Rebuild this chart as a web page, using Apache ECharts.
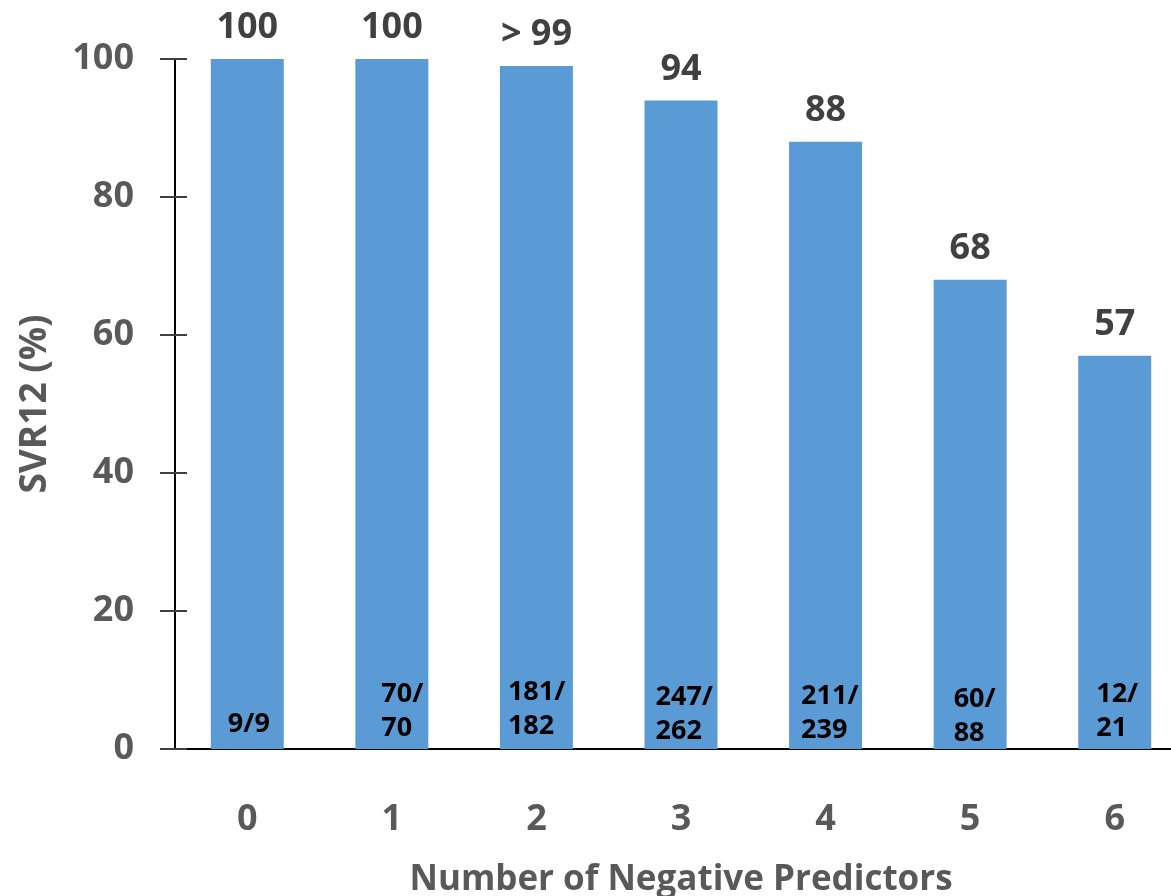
<!DOCTYPE html>
<html>
<head>
<meta charset="utf-8">
<script src="https://cdn.jsdelivr.net/npm/echarts@6/dist/echarts.min.js"></script>
<style>
  html, body { margin: 0; padding: 0; background: #ffffff; }
  #chart { width: 1171px; height: 896px; }
</style>
</head>
<body>
<div id="chart"></div>
<script>
  // data
  const categories = ['0', '1', '2', '3', '4', '5', '6'];
  const svr12 = [100, 100, 99, 94, 88, 68, 57];
  const topLabels = ['100', '100', '> 99', '94', '88', '68', '57'];
  const counts = ['9/9', '70/\n70', '181/\n182', '247/\n262', '211/\n239', '60/\n88', '12/\n21'];

  // label nudges inside bars (px from bar left / bar bottom)
  const innerX = [17, 26, 8, 11, 12, 20, 18];
  const innerY = [-8, -4, -6, -1, -2, 1, -4];

  const FONT = '"Open Sans", "Noto Sans", sans-serif';
  const chart = echarts.init(document.getElementById('chart'));

  const yBase = {
    type: 'value',
    min: 0,
    max: 100,
    interval: 20,
    splitLine: { show: false },
    axisLine: { show: true, lineStyle: { color: '#000000', width: 2 } }
  };

  chart.setOption({
    animation: false,
    backgroundColor: '#ffffff',
    // plot runs a bit past the right edge, like the original
    grid: { left: 175, top: 59, height: 690, width: 1012, outerBoundsMode: 'none' },
    xAxis: {
      type: 'category',
      data: categories,
      name: 'Number of Negative Predictors',
      nameLocation: 'middle',
      nameGap: 114,
      nameTextStyle: { fontFamily: FONT, fontWeight: 'bold', fontSize: 35, color: '#595959' },
      axisLine: { lineStyle: { color: '#000000', width: 2 } },
      axisTick: { show: false },
      axisLabel: { margin: 53, fontFamily: FONT, fontWeight: 'bold', fontSize: 36, color: '#595959' }
    },
    yAxis: [
      Object.assign({}, yBase, {
        name: 'SVR12 (%)',
        nameLocation: 'middle',
        nameGap: 121,
        nameTextStyle: { fontFamily: FONT, fontWeight: 'bold', fontSize: 37, color: '#595959' },
        axisTick: { show: true, inside: false, length: 15, lineStyle: { color: '#404040', width: 2 } },
        axisLabel: { margin: 41, fontFamily: FONT, fontWeight: 'bold', fontSize: 36, color: '#595959' }
      }),
      Object.assign({}, yBase, {
        position: 'left',
        axisTick: { show: true, inside: true, length: 12, lineStyle: { color: '#404040', width: 2 } },
        axisLabel: { show: false }
      })
    ],
    series: [
      {
        type: 'bar',
        data: svr12,
        barWidth: 73,
        itemStyle: { color: '#5B9BD5' },
        label: {
          show: true,
          position: 'top',
          distance: 13,
          fontFamily: FONT,
          fontWeight: 'bold',
          fontSize: 36,
          color: '#404040',
          formatter: function (p) { return topLabels[p.dataIndex]; }
        }
      },
      {
        type: 'bar',
        data: svr12.map(function (v, i) {
          return {
            value: v,
            label: { position: [innerX[i], '100%'], offset: [0, innerY[i]] }
          };
        }),
        barWidth: 73,
        barGap: '-100%',
        itemStyle: { color: 'rgba(0,0,0,0)' },
        silent: true,
        label: {
          show: true,
          align: 'left',
          verticalAlign: 'bottom',
          fontFamily: FONT,
          fontWeight: 'bold',
          fontSize: 27,
          lineHeight: 34,
          color: '#000000',
          formatter: function (p) { return counts[p.dataIndex]; }
        }
      }
    ]
  });
</script>
</body>
</html>
